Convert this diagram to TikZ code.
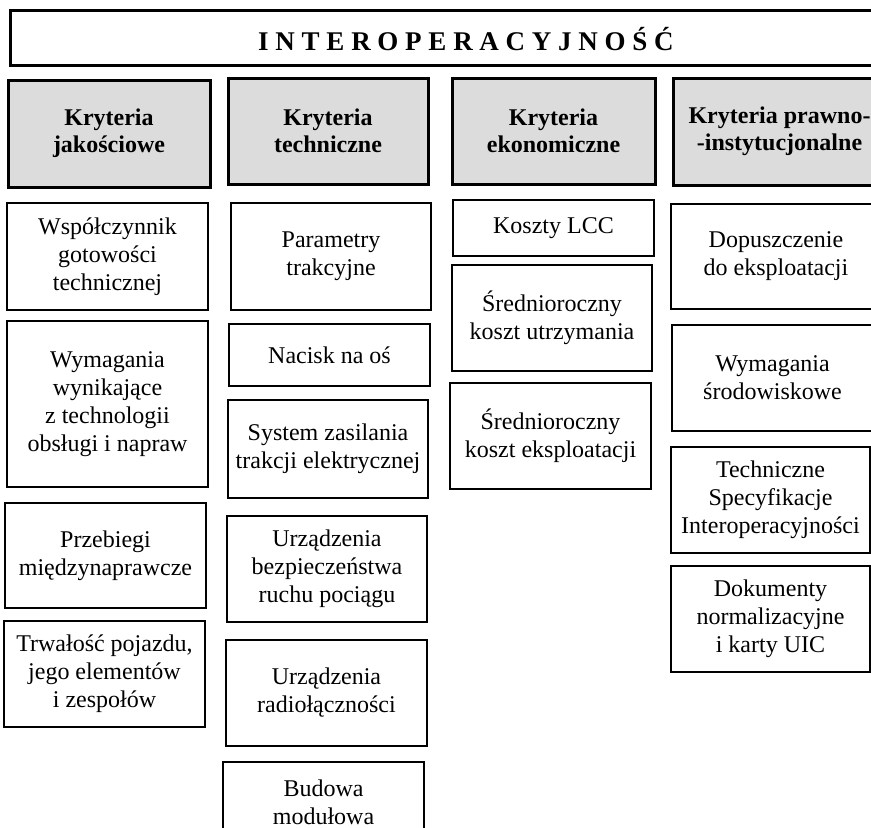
\documentclass[tikz,border=0pt]{standalone}
\usepackage{fontspec}
\setmainfont{Liberation Serif}
\definecolor{hdrgray}{RGB}{220,220,220}
\tikzset{
  boxbase/.style={draw=black, inner sep=0pt, outer sep=0pt, align=center, text=black},
  titlebox/.style={boxbase, line width=3pt},
  hdrbox/.style={boxbase, line width=3pt, fill=hdrgray, font=\bfseries\fontsize{24}{27}\selectfont},
  itembox/.style={boxbase, line width=2pt, fill=white, font=\fontsize{24}{28}\selectfont},
}
\newcommand{\mkbox}[6]{\node[#1, minimum width={(#4)-(#2)}, minimum height={(#5)-(#3)}] (#6) at ({((#2)+(#4))/2},{((#3)+(#5))/2})}
\begin{document}
\begin{tikzpicture}[x=1pt,y=-1pt]
\useasboundingbox (0,0) rectangle (871,828);
\clip (0,0) rectangle (871,828);
\fill[white] (0,0) rectangle (871,828);
% title
\mkbox{titlebox}{10}{10}{922}{65}{title} {};
\node[font=\bfseries\fontsize{27}{30}\selectfont, anchor=base] (titletext) at (466,50) {I N T E R O P E R A C Y J N O Ś Ć};
% headers
\mkbox{hdrbox}{8}{80}{210}{187}{h1} {Kryteria\\jakościowe};
\mkbox{hdrbox}{228}{78}{428}{184}{h2} {Kryteria\\techniczne};
\mkbox{hdrbox}{452}{78}{655}{184}{h3} {Kryteria\\ekonomiczne};
\mkbox{hdrbox}{673}{78}{886}{185}{h4} {Kryteria prawno-\\-instytucjonalne};
% column 1
\mkbox{itembox}{7}{203}{208}{310}{a1} {Współczynnik\\gotowości\\technicznej};
\mkbox{itembox}{7}{321}{208}{487}{a2} {Wymagania\\wynikające\\z technologii\\obsługi i napraw};
\mkbox{itembox}{5}{503}{206}{608}{a3} {Przebiegi\\międzynaprawcze};
\mkbox{itembox}{4}{621}{205}{727}{a4} {Trwałość pojazdu,\\jego elementów\\i zespołów};
% column 2
\mkbox{itembox}{231}{203}{431}{310}{b1} {Parametry\\trakcyjne};
\mkbox{itembox}{229}{324}{430}{386}{b2} {Nacisk na oś};
\mkbox{itembox}{228}{400}{428}{498}{b3} {System zasilania\\trakcji elektrycznej};
\mkbox{itembox}{227}{516}{427}{622}{b4} {Urządzenia\\bezpieczeństwa\\ruchu pociągu};
\mkbox{itembox}{226}{640}{427}{746}{b5} {Urządzenia\\radiołączności};
\mkbox{itembox}{223}{762}{424}{842}{b6} {Budowa\\modułowa};
% column 3
\mkbox{itembox}{453}{200}{654}{256}{c1} {Koszty LCC};
\mkbox{itembox}{452}{265}{652}{371}{c2} {Średnioroczny\\koszt utrzymania};
\mkbox{itembox}{450}{383}{651}{489}{c3} {Średnioroczny\\koszt eksploatacji};
% column 4
\mkbox{itembox}{671}{204}{881}{309}{d1} {Dopuszczenie\\do eksploatacji};
\mkbox{itembox}{672}{325}{873}{431}{d2} {Wymagania\\środowiskowe};
\mkbox{itembox}{671}{447}{870}{553}{d3} {Techniczne\\Specyfikacje\\Interoperacyjności};
\mkbox{itembox}{671}{566}{870}{672}{d4} {Dokumenty\\normalizacyjne\\i karty UIC};
\end{tikzpicture}
\end{document}
